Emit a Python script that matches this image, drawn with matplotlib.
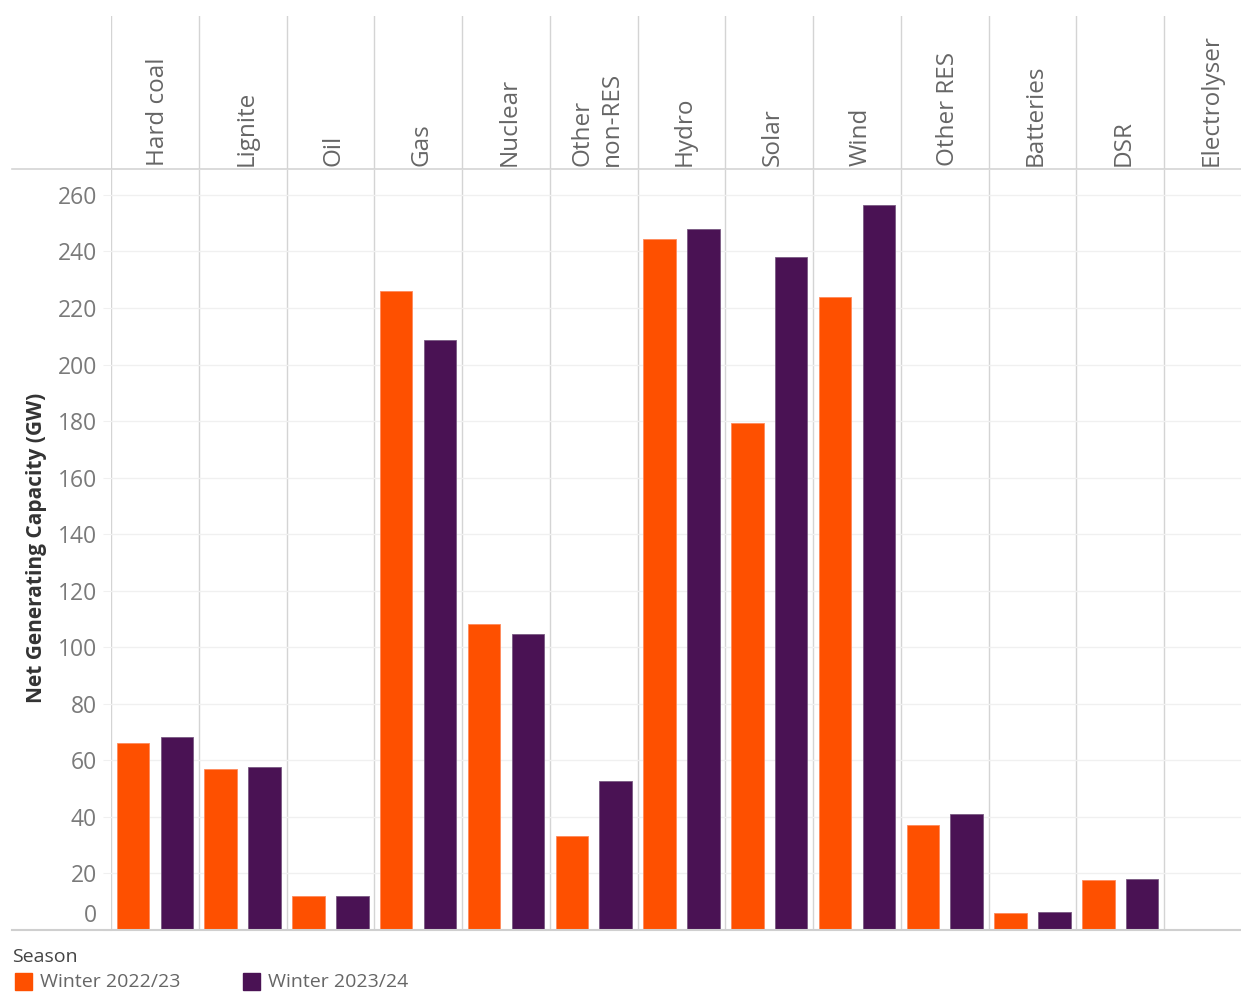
import matplotlib
matplotlib.use("Agg")
import matplotlib.pyplot as plt
from matplotlib.lines import Line2D
from matplotlib.patches import Rectangle
from matplotlib.transforms import ScaledTranslation
import numpy as np

categories = ['Hard coal', 'Lignite', 'Oil', 'Gas', 'Nuclear', 'Other\nnon-RES', 'Hydro',
              'Solar', 'Wind', 'Other RES', 'Batteries', 'DSR', 'Electrolyser']
winter_2223 = [66.1, 57.1, 12.0, 226.1, 108.1, 33.2, 244.5, 179.2, 224.0, 37.1, 5.9, 17.6, 0]
winter_2324 = [68.3, 57.6, 12.0, 208.8, 104.6, 52.7, 248.1, 238.2, 256.5, 41.0, 6.4, 18.0, 0]
seasons = ['Winter 2022/23', 'Winter 2023/24']
yticks = list(range(0, 261, 20))

orange = '#fe5000'
purple = '#4a1254'
sep_col = '#d4d4d4'
grid_col = '#f0f0f0'

plt.rcParams['font.family'] = ['Open Sans', 'DejaVu Sans']

W, H = 1241, 992
fig = plt.figure(figsize=(W / 100, H / 100), dpi=100)

# main plot area
ax = fig.add_axes([111 / W, 1 - 930 / H, 1 - 111 / W, (930 - 170) / H])
x = np.arange(len(categories))
ax.bar(x - 0.25, winter_2223, width=0.37, color=orange, edgecolor='#ff8a5c', linewidth=0.6, zorder=3)
ax.bar(x + 0.25, winter_2324, width=0.37, color=purple, edgecolor='#7a5a82', linewidth=0.6, zorder=3)

ax.set_xlim(-0.5, 12.375)
ax.set_ylim(0, 268.8)
ax.set_xticks([])
ax.set_yticks(yticks)
ax.set_yticklabels([str(t) for t in yticks])
ax.tick_params(axis='y', length=6, color=grid_col, labelsize=16.5, labelcolor='#7a7a7a', pad=4)
for lbl in ax.get_yticklabels():
    if lbl.get_text() == '0':
        lbl.set_transform(lbl.get_transform() + ScaledTranslation(0, 12 / 72, fig.dpi_scale_trans))
ax.grid(axis='y', color=grid_col, linewidth=1, zorder=0)
for s in ax.spines.values():
    s.set_visible(False)
for i in range(len(categories)):
    ax.axvline(i - 0.5, color=sep_col, linewidth=1, zorder=1)

# header row with the category names
hx = fig.add_axes([111 / W, 1 - 169 / H, 1 - 111 / W, (169 - 16) / H])
hx.set_xlim(-0.5, 12.375)
hx.set_ylim(0, 1)
hx.axis('off')
for i, c in enumerate(categories):
    hx.axvline(i - 0.5, color=sep_col, linewidth=1)
    hx.text(i + 0.04, 0.02, c, rotation=90, ha='center', va='bottom', multialignment='left',
            fontsize=17.5, color='#666666', linespacing=1.3)

# long horizontal rules
fig.add_artist(Line2D([12 / W, 1], [1 - 169 / H] * 2, color=sep_col, linewidth=1.2))
fig.add_artist(Line2D([12 / W, 1], [1 - 930 / H] * 2, color='#cfcfcf', linewidth=1.5))

fig.text(37 / W, 1 - 548 / H, 'Net Generating Capacity (GW)', rotation=90, ha='center', va='center',
         fontsize=15, fontweight='bold', color='#333333')

# legend
fig.text(12 / W, 1 - 957 / H, 'Season', ha='left', va='center', fontsize=14, color='#444444')
for sx, col, name in [(15, orange, seasons[0]), (243, purple, seasons[1])]:
    fig.add_artist(Rectangle((sx / W, 1 - 990 / H), 17 / W, 17 / H, color=col, transform=fig.transFigure))
    fig.text((sx + 25) / W, 1 - 982 / H, name, ha='left', va='center', fontsize=14, color='#666666')

fig.savefig('out.png', dpi=100)
